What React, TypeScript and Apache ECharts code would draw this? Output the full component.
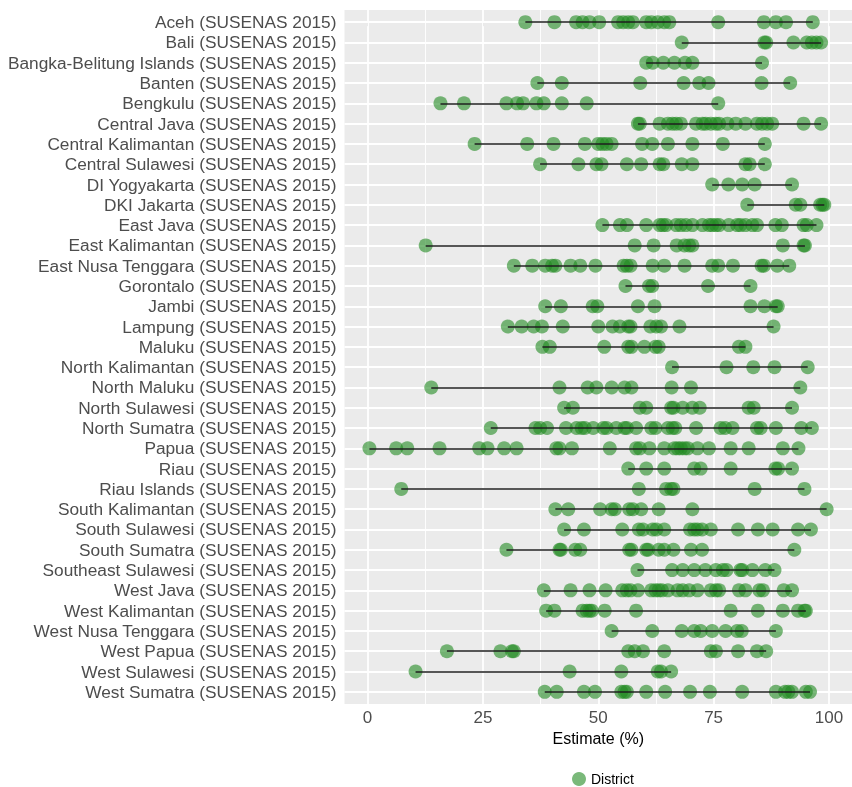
import React, { useEffect, useRef } from "react";
import * as echarts from "echarts";

// Province rows, top to bottom
const provinces = [
  "Aceh", "Bali", "Bangka-Belitung Islands", "Banten", "Bengkulu", "Central Java",
  "Central Kalimantan", "Central Sulawesi", "DI Yogyakarta", "DKI Jakarta", "East Java",
  "East Kalimantan", "East Nusa Tenggara", "Gorontalo", "Jambi", "Lampung", "Maluku",
  "North Kalimantan", "North Maluku", "North Sulawesi", "North Sumatra", "Papua", "Riau",
  "Riau Islands", "South Kalimantan", "South Sulawesi", "South Sumatra", "Southeast Sulawesi",
  "West Java", "West Kalimantan", "West Nusa Tenggara", "West Papua", "West Sulawesi", "West Sumatra",
];
const survey = "SUSENAS 2015";

// District estimates (%) per province
const aceh = [34.2, 40.5, 45.2, 46.6, 48.1, 50.2, 54.3, 55.4, 56.5, 57.5, 60.4, 61.5, 62.9, 64.3, 65.4, 76.0, 85.9, 88.5, 90.7, 96.5];
const bali = [68.1, 86.0, 86.4, 92.3, 95.2, 96.3, 97.3, 98.3];
const bangkaBelitung = [60.4, 61.8, 64.1, 66.5, 68.8, 70.4, 85.5];
const banten = [36.8, 42.1, 59.1, 68.5, 71.9, 73.9, 85.4, 91.6];
const bengkulu = [15.8, 20.9, 30.1, 32.4, 33.7, 36.6, 38.2, 42.1, 47.5, 76.0];
const centralJava = [58.6, 59.0, 63.3, 65.1, 66.1, 66.9, 67.9, 71.2, 72.6, 73.3, 74.4, 75.5, 76.2, 78.0, 79.8, 81.9, 84.4, 85.5, 86.6, 87.7, 94.5, 98.3];
const centralKalimantan = [23.2, 34.6, 40.3, 47.1, 50.0, 50.9, 51.8, 52.9, 59.5, 61.7, 65.1, 70.4, 77.0, 86.1];
const centralSulawesi = [37.4, 45.7, 49.6, 50.7, 56.2, 59.3, 63.3, 64.1, 68.1, 70.4, 81.9, 82.8, 86.1];
const diYogyakarta = [74.7, 78.2, 81.2, 83.9, 92.0];
const dkiJakarta = [82.3, 92.8, 93.8, 98.1, 98.6, 99.0];
const eastJava = [50.9, 54.7, 56.2, 60.4, 63.3, 64.0, 64.7, 66.9, 67.9, 69.0, 70.4, 72.6, 74.0, 74.7, 75.5, 76.2, 78.3, 80.1, 80.8, 81.9, 83.4, 84.4, 88.4, 89.8, 94.5, 95.2, 97.3];
const eastKalimantan = [12.6, 57.9, 62.0, 67.0, 68.7, 69.7, 70.4, 90.0, 94.5, 94.8];
const eastNusaTenggara = [31.7, 35.7, 38.5, 40.0, 40.7, 44.0, 46.1, 49.4, 55.5, 56.2, 57.0, 61.8, 64.3, 68.7, 74.7, 76.0, 79.2, 85.4, 85.9, 88.8, 91.4];
const gorontalo = [55.9, 61.0, 61.7, 73.8, 83.0];
const jambi = [38.5, 41.9, 48.8, 49.8, 58.6, 62.2, 83.0, 86.0, 88.5, 88.9];
const lampung = [30.4, 33.4, 36.0, 37.8, 42.3, 50.0, 53.1, 54.7, 56.5, 57.0, 61.3, 62.6, 63.6, 67.6, 88.0];
const maluku = [37.9, 39.5, 51.3, 56.5, 57.2, 60.0, 62.4, 63.1, 80.5, 81.9];
const northKalimantan = [66.0, 77.8, 83.6, 88.2, 95.4];
const northMaluku = [13.8, 41.6, 47.7, 49.6, 52.9, 55.7, 57.2, 65.9, 70.1, 93.8];
const northSulawesi = [42.6, 44.5, 59.0, 60.4, 65.8, 66.3, 68.3, 70.4, 72.0, 82.6, 83.7, 92.0];
const northSumatra = [26.7, 36.4, 37.4, 38.9, 43.0, 45.3, 46.4, 47.1, 48.9, 51.1, 51.8, 53.9, 55.7, 56.2, 58.2, 61.5, 62.4, 65.1, 66.1, 66.7, 71.2, 76.5, 77.5, 79.1, 84.4, 85.2, 88.5, 94.0, 96.3];
const papua = [0.4, 6.2, 8.6, 15.6, 24.2, 26.0, 29.6, 32.3, 40.9, 41.6, 44.3, 52.5, 58.2, 59.0, 61.1, 64.3, 66.5, 67.2, 67.9, 68.7, 69.4, 71.5, 74.0, 78.7, 82.6, 90.0, 93.4];
const riau = [56.5, 60.4, 64.3, 70.8, 72.2, 78.7, 88.4, 89.0, 92.0];
const riauIslands = [7.3, 58.8, 64.7, 65.8, 66.3, 83.9, 94.7];
const southKalimantan = [40.7, 43.5, 50.4, 52.9, 53.6, 56.7, 57.5, 59.3, 63.1, 70.4, 99.5];
const southSulawesi = [42.6, 46.9, 55.2, 58.8, 59.7, 61.8, 62.6, 64.3, 69.9, 70.8, 71.5, 72.5, 74.4, 80.3, 84.6, 87.8, 93.3, 96.1];
const southSumatra = [30.1, 41.6, 41.9, 45.0, 46.1, 56.7, 57.2, 60.4, 60.8, 63.1, 64.3, 66.3, 70.1, 72.5, 92.5];
const southeastSulawesi = [58.5, 66.0, 68.3, 70.8, 73.2, 75.5, 77.0, 77.8, 80.8, 81.2, 83.4, 86.2, 88.2];
const westJava = [38.2, 44.0, 48.1, 51.6, 55.2, 56.2, 57.0, 58.6, 61.5, 62.4, 63.1, 63.8, 65.1, 67.2, 68.3, 69.7, 71.5, 74.4, 75.5, 76.2, 80.5, 81.9, 84.9, 85.7, 90.2, 92.0];
const westKalimantan = [38.7, 40.5, 46.6, 47.5, 48.1, 48.6, 51.4, 58.2, 78.7, 84.6, 90.0, 93.3, 94.7, 95.0];
const westNusaTenggara = [52.9, 61.7, 68.1, 70.8, 72.2, 74.7, 77.6, 80.1, 81.1, 88.5];
const westPapua = [17.2, 28.8, 31.3, 31.7, 56.5, 57.9, 59.7, 64.3, 74.4, 75.5, 80.3, 84.4, 86.4];
const westSulawesi = [10.4, 43.8, 55.0, 62.9, 63.6, 65.8];
const westSumatra = [38.4, 41.0, 46.9, 49.3, 55.0, 55.7, 56.2, 60.4, 64.5, 69.9, 74.2, 81.2, 88.5, 90.5, 91.2, 92.0, 95.0, 95.9];

const districtEstimates = [
  aceh, bali, bangkaBelitung, banten, bengkulu, centralJava, centralKalimantan, centralSulawesi,
  diYogyakarta, dkiJakarta, eastJava, eastKalimantan, eastNusaTenggara, gorontalo, jambi, lampung,
  maluku, northKalimantan, northMaluku, northSulawesi, northSumatra, papua, riau, riauIslands,
  southKalimantan, southSulawesi, southSumatra, southeastSulawesi, westJava, westKalimantan,
  westNusaTenggara, westPapua, westSulawesi, westSumatra,
];

const xTicks = [0, 25, 50, 75, 100];
const xMinorBreaks = [12.5, 37.5, 62.5, 87.5];

const FONT = "'Liberation Sans', Arial, Helvetica, sans-serif";

export default function App() {
  const ref = useRef<HTMLDivElement>(null);

  useEffect(() => {
    if (!ref.current) return;
    const chart = echarts.init(ref.current, undefined, { renderer: "svg" });

    const rowIdx = provinces.map((_, i) => i);
    const points = districtEstimates.flatMap((vals, i) => vals.map((v) => [v, i]));
    const ranges = districtEstimates.map((vals, i) => ({
      coords: [
        [Math.min(...vals), i],
        [Math.max(...vals), i],
      ],
    }));

    const gridLines = [
      ...xMinorBreaks.map((v) => ({ xAxis: v, lineStyle: { width: 0.9 } })),
      ...xTicks.map((v) => ({ xAxis: v, lineStyle: { width: 1.8 } })),
      ...rowIdx.map((i) => ({ yAxis: i, lineStyle: { width: 1.8 } })),
    ];

    chart.setOption({
      animation: false,
      textStyle: { fontFamily: FONT },
      grid: {
        left: 344.5,
        right: -3.5,
        top: 10,
        bottom: 83,
        show: true,
        backgroundColor: "#EBEBEB",
        borderWidth: 0,
      },
      xAxis: {
        type: "value",
        min: -5,
        max: 105,
        name: "Estimate (%)",
        nameLocation: "middle",
        nameGap: 24,
        nameTextStyle: { color: "#000", fontSize: 16, fontFamily: FONT },
        axisLine: { show: false },
        splitLine: { show: false },
        axisTick: { show: true, customValues: xTicks, length: 4, lineStyle: { color: "#333", width: 1 } },
        axisLabel: {
          customValues: xTicks,
          color: "#4D4D4D",
          fontSize: 17,
          margin: 5,
          fontFamily: FONT,
        },
      },
      yAxis: {
        type: "value",
        min: -0.6,
        max: 33.6,
        inverse: true,
        axisLine: { show: false },
        splitLine: { show: false },
        axisTick: { show: true, customValues: rowIdx, length: 4, lineStyle: { color: "#333", width: 1 } },
        axisLabel: {
          customValues: rowIdx,
          formatter: (v: number) => `${provinces[Math.round(v)]} (${survey})`,
          color: "#4D4D4D",
          fontSize: 17.3,
          margin: 8,
          fontFamily: FONT,
        },
      },
      legend: {
        data: [{ name: "District", icon: "circle" }],
        left: 572,
        top: 772,
        padding: 0,
        itemWidth: 14,
        itemHeight: 14,
        itemGap: 6,
        textStyle: { color: "#000", fontSize: 14, fontFamily: FONT },
      },
      series: [
        {
          name: "District",
          type: "scatter",
          z: 2,
          symbol: "circle",
          symbolSize: 14,
          data: points,
          itemStyle: { color: "#228B22", opacity: 0.6 },
          markLine: {
            silent: true,
            z: 1,
            symbol: ["none", "none"],
            label: { show: false },
            lineStyle: { color: "#FFFFFF", type: "solid" },
            emphasis: { disabled: true },
            data: gridLines,
          },
        },
        {
          name: "Range",
          type: "lines",
          coordinateSystem: "cartesian2d",
          z: 3,
          silent: true,
          data: ranges,
          lineStyle: { color: "#1E1E1E", width: 1.6, opacity: 1 },
        },
      ],
    });

    return () => chart.dispose();
  }, []);

  return (
    <div
      ref={ref}
      style={{ position: "fixed", left: 0, top: 0, width: 852, height: 787 }}
    />
  );
}
